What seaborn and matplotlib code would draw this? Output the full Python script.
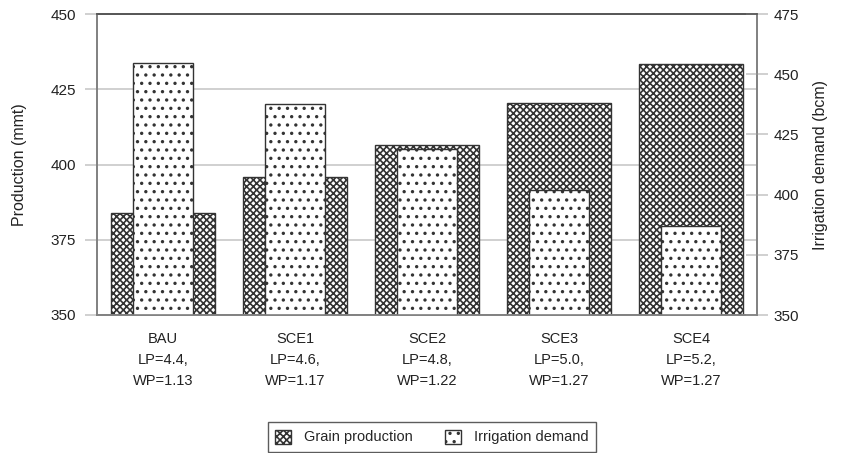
import pandas as pd
import matplotlib
matplotlib.use('Agg')
import matplotlib.pyplot as plt
import matplotlib.patches as mpatches
import seaborn as sns

# data
scenarios = ['BAU', 'SCE1', 'SCE2', 'SCE3', 'SCE4']
lp = ['4.4', '4.6', '4.8', '5.0', '5.2']
wp = ['1.13', '1.17', '1.22', '1.27', '1.27']
grain = [383.8, 395.7, 406.6, 420.5, 433.3]        # mmt, left axis
irrigation = [454.5, 437.6, 419.0, 401.9, 387.1]   # bcm, right axis

labels = [f'{s}\nLP={a},\nWP={b}' for s, a, b in zip(scenarios, lp, wp)]
df = pd.DataFrame({'label': labels, 'grain': grain, 'irrigation': irrigation})

sns.set_style('white')
plt.rcParams['font.family'] = ['Liberation Sans', 'DejaVu Sans']
plt.rcParams['hatch.linewidth'] = 1.2
plt.rcParams['hatch.color'] = '#1a1a1a'

grain_hatch = 'xxxxx'
irr_hatch = '..'
edge = '#333333'
grid_c = '#c8c8c8'
spine_c = '#808080'

fig = plt.figure(figsize=(8.42, 4.53), dpi=100)
ax = fig.add_axes([97 / 842, 1 - 315 / 453, 660 / 842, 301 / 453])

sns.barplot(data=df, x='label', y='grain', ax=ax, width=0.786,
            color='white', edgecolor=edge, linewidth=1.0, hatch=grain_hatch)

ax2 = ax.twinx()
sns.barplot(data=df, x='label', y='irrigation', ax=ax2, width=0.457,
            color='white', edgecolor=edge, linewidth=1.0, hatch=irr_hatch)

ax.set_ylim(350, 450)
ax.set_yticks([350, 375, 400, 425, 450])
ax2.set_ylim(350, 475)
ax2.set_yticks([350, 375, 400, 425, 450, 475])
ax.set_xlim(-0.5, 4.5)
ax2.set_xlim(-0.5, 4.5)

ax.yaxis.grid(True, color=grid_c, linewidth=1.2)
ax.set_axisbelow(True)

# category labels without ticks, boundaries with ticks
ax.set_xticks(range(5))
ax.set_xticklabels(labels, fontsize=10.5, color='#222222', linespacing=1.65)
ax.tick_params(axis='x', which='major', length=0, pad=12)
ax.set_xticks([i - 0.5 for i in range(6)], minor=True)
ax.tick_params(axis='x', which='minor', length=6, color=grid_c, width=1.2)
ax2.tick_params(axis='x', length=0)

ax.tick_params(axis='y', length=9, color=grid_c, width=1.2, labelsize=11,
               labelcolor='#222222', pad=6)
ax2.tick_params(axis='y', direction='inout', length=16, color=grid_c, width=1.2,
                labelsize=11, labelcolor='#222222', pad=4)

ax.set_xlabel('')
ax2.set_xlabel('')
ax.set_ylabel('Production (mmt)', fontsize=11.5, color='#222222', labelpad=17)
ax2.set_ylabel('Irrigation demand (bcm)', fontsize=11.5, color='#222222', labelpad=10)

for a in (ax, ax2):
    for side in ['left', 'right', 'bottom']:
        a.spines[side].set_color(spine_c)
        a.spines[side].set_linewidth(1.2)
    a.spines['top'].set_color('#555555')
    a.spines['top'].set_linewidth(1.2)

handles = [
    mpatches.Patch(facecolor='white', edgecolor=edge, hatch=grain_hatch, label='Grain production'),
    mpatches.Patch(facecolor='white', edgecolor=edge, hatch=irr_hatch, label='Irrigation demand'),
]
leg = fig.legend(handles=handles, loc='center', bbox_to_anchor=(432 / 842, 1 - 437 / 453),
                 ncol=2, frameon=True, fancybox=False, fontsize=10.5,
                 handlelength=1.1, handleheight=1.1, columnspacing=2.2,
                 handletextpad=0.9, borderpad=0.5)
leg.get_frame().set_edgecolor('#333333')
leg.get_frame().set_linewidth(1.0)

fig.savefig('out.png', dpi=100)
